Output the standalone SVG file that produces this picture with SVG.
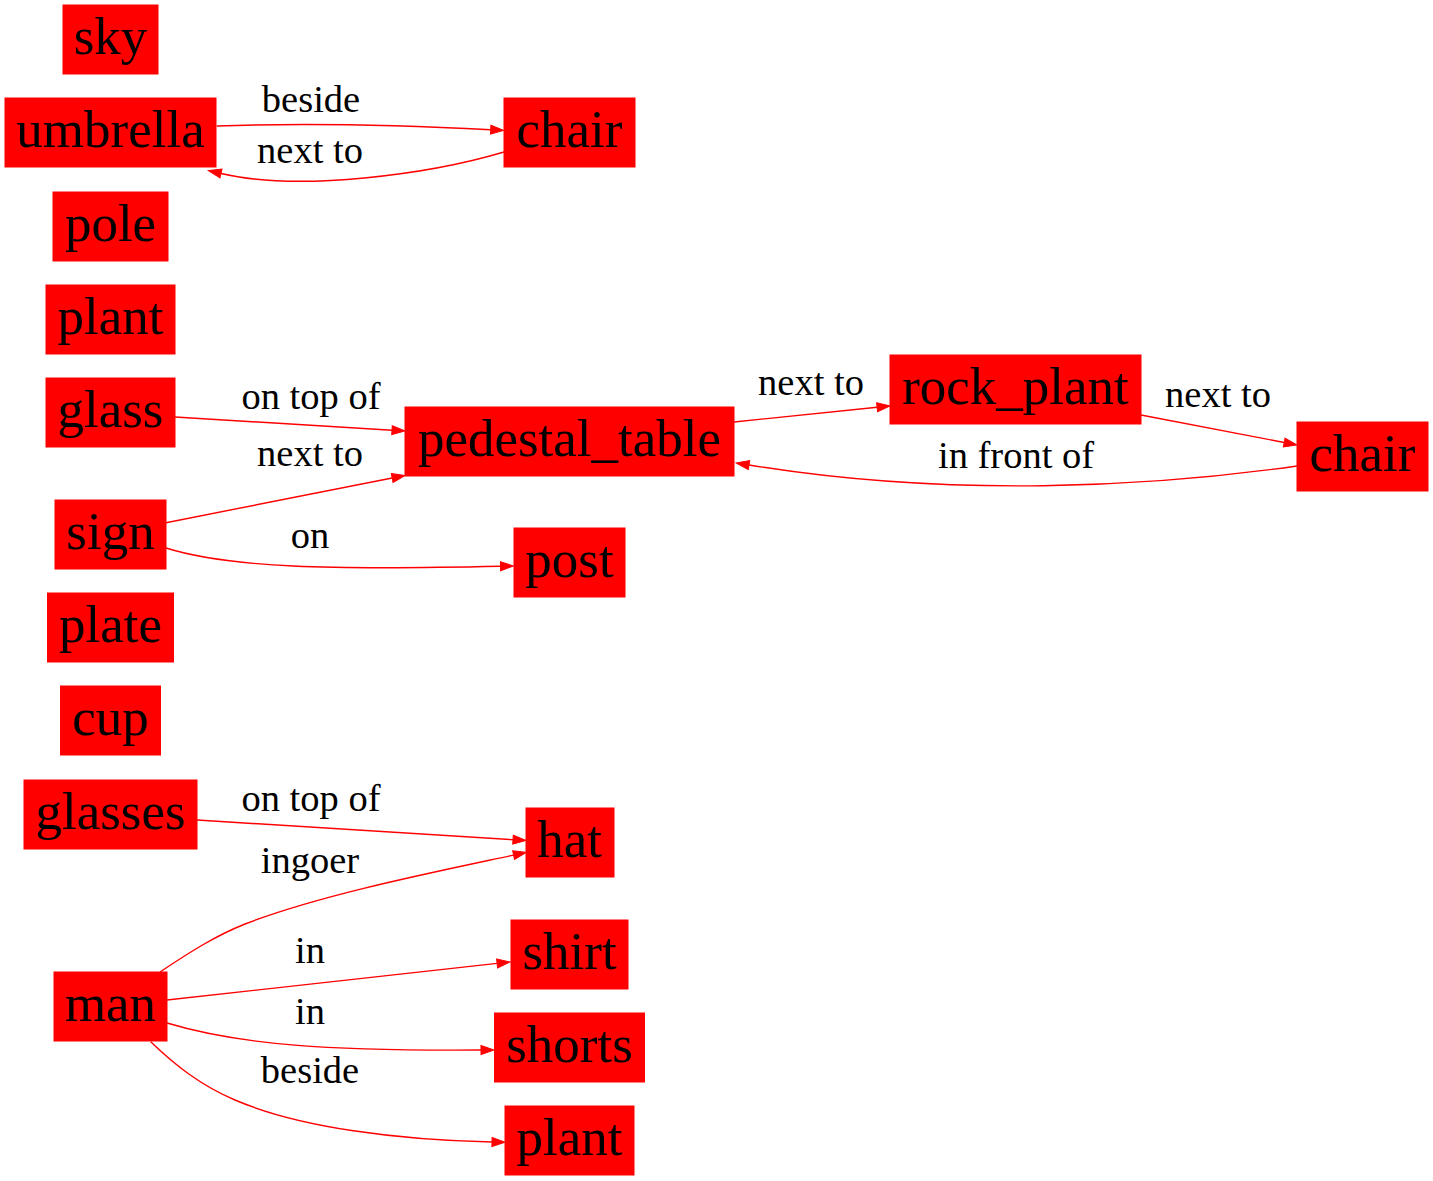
<svg xmlns="http://www.w3.org/2000/svg" width="1433" height="1181" viewBox="0 0 1433 1181">
<style>
.n rect{fill:#ff0000;stroke:#ff0000;stroke-width:1}
.n text{font-family:"Liberation Serif","Times New Roman",serif;font-size:53px;fill:#000;text-anchor:middle}
.e path{fill:none;stroke:#ff0000;stroke-width:1.4;marker-end:url(#ah)}
.e text{font-family:"Liberation Serif","Times New Roman",serif;font-size:38.5px;fill:#000;text-anchor:middle}
</style>
<defs>
<marker id="ah" markerWidth="14" markerHeight="10" viewBox="0 -5 14 10" refX="0" refY="0" orient="auto" markerUnits="userSpaceOnUse" overflow="visible">
<path d="M0,-4.5L13,0L0,4.5z" fill="#ff0000" stroke="#ff0000" stroke-width="1"/>
</marker>
</defs>
<rect width="1433" height="1181" fill="#fff"/>
<g id="edges" class="e">
<path d="M216.7,126 C300,123 400,125 490.7,129.7"/>
<text x="311" y="112">beside</text>
<path d="M504,152 C430,174 300,192 221,173.5"/>
<text x="310" y="163">next to</text>
<path d="M175,417 L392,430.2"/>
<text x="311" y="409">on top of</text>
<path d="M166,522.7 L392.2,478"/>
<text x="310" y="466">next to</text>
<path d="M166,548 C230,568 330,570 500.5,566.3"/>
<text x="310" y="548">on</text>
<path d="M734,422 L877.1,407.3"/>
<text x="811" y="395">next to</text>
<path d="M1141,415 L1284.2,442.5"/>
<text x="1218" y="407">next to</text>
<path d="M1297,466 C1150,487 950,498 749,465"/>
<text x="1016" y="468">in front of</text>
<path d="M197,820 L513,839.7"/>
<text x="311" y="811">on top of</text>
<path d="M160,972 C190,952 215,936 245,924 C320,895 430,873 513.6,855.1"/>
<text x="310" y="873">ingoer</text>
<path d="M167,1000 L497.1,963.4"/>
<text x="310" y="963">in</text>
<path d="M167,1023 C240,1045 330,1051 481,1050"/>
<text x="310" y="1024">in</text>
<path d="M150.7,1041.7 C175,1065 200,1085 235,1100 C300,1128 400,1140 492,1142"/>
<text x="310" y="1083">beside</text>
</g>
<g id="sky" class="n"><rect x="63" y="5" width="95" height="69"/><text x="110.5" y="54">sky</text></g>
<g id="umbrella" class="n"><rect x="5" y="98" width="211" height="69"/><text x="110.5" y="147">umbrella</text></g>
<g id="chair" class="n"><rect x="504" y="98" width="131" height="69"/><text x="569.5" y="147">chair</text></g>
<g id="pole" class="n"><rect x="53" y="192" width="115" height="69"/><text x="110.5" y="241">pole</text></g>
<g id="plant" class="n"><rect x="46" y="285" width="129" height="69"/><text x="110.5" y="334">plant</text></g>
<g id="glass" class="n"><rect x="46" y="378" width="129" height="69"/><text x="110.5" y="427">glass</text></g>
<g id="pedestal_table" class="n"><rect x="405" y="407" width="329" height="69"/><text x="569.5" y="456">pedestal_table</text></g>
<g id="rock_plant" class="n"><rect x="890" y="355" width="251" height="69"/><text x="1015.5" y="404">rock_plant</text></g>
<g id="chair2" class="n"><rect x="1297" y="422" width="131" height="69"/><text x="1362.5" y="471">chair</text></g>
<g id="sign" class="n"><rect x="55" y="500" width="111" height="69"/><text x="110.5" y="549">sign</text></g>
<g id="post" class="n"><rect x="514" y="528" width="111" height="69"/><text x="569.5" y="577">post</text></g>
<g id="plate" class="n"><rect x="47.5" y="593" width="126" height="69"/><text x="110.5" y="642">plate</text></g>
<g id="cup" class="n"><rect x="60.5" y="686" width="100" height="69"/><text x="110.5" y="735">cup</text></g>
<g id="glasses" class="n"><rect x="24" y="780" width="173" height="69"/><text x="110.5" y="829">glasses</text></g>
<g id="hat" class="n"><rect x="526" y="808" width="88" height="69"/><text x="569.5" y="857">hat</text></g>
<g id="man" class="n"><rect x="54" y="972" width="113" height="69"/><text x="110.5" y="1021">man</text></g>
<g id="shirt" class="n"><rect x="511" y="920" width="117" height="69"/><text x="569.5" y="969">shirt</text></g>
<g id="shorts" class="n"><rect x="494.5" y="1013" width="150" height="69"/><text x="569.5" y="1062">shorts</text></g>
<g id="plant2" class="n"><rect x="505" y="1106" width="129" height="69"/><text x="569.5" y="1155">plant</text></g>
</svg>
